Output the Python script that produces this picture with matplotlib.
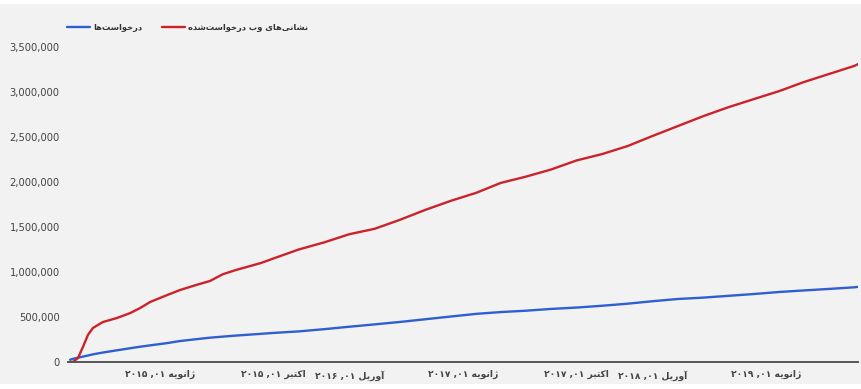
import matplotlib
matplotlib.use("Agg")
import matplotlib.pyplot as plt
from matplotlib.ticker import FuncFormatter, MultipleLocator
from matplotlib.patches import Rectangle
import numpy as np
import datetime as dt

# ---------------- data ----------------
dates = ["2014-05-29", "2014-06-05", "2014-06-17", "2014-06-29", "2014-07-11",
         "2014-07-23", "2014-08-16", "2014-09-19", "2014-10-21", "2014-11-14",
         "2014-12-08", "2015-01-18", "2015-02-18", "2015-04-01", "2015-05-01",
         "2015-06-01", "2015-07-01", "2015-08-01", "2015-09-01", "2015-10-01",
         "2015-12-01", "2016-02-01", "2016-04-01", "2016-06-01", "2016-08-01",
         "2016-10-01", "2016-12-01", "2017-02-01", "2017-04-01", "2017-06-01",
         "2017-08-01", "2017-10-01", "2017-12-01", "2018-02-01", "2018-04-01",
         "2018-06-01", "2018-08-01", "2018-10-01", "2018-12-01", "2019-02-01",
         "2019-04-01", "2019-06-01", "2019-08-01", "2019-08-10"]
urls_k = [0, 0, 44, 167, 300,
          378, 444, 489, 544, 600,
          667, 744, 800, 860, 900,
          975, 1020, 1060, 1100, 1150,
          1250, 1330, 1420, 1480, 1580,
          1690, 1790, 1880, 1990, 2060,
          2140, 2240, 2310, 2400, 2510,
          2620, 2730, 2830, 2920, 3010,
          3110, 3200, 3290, 3310]
requests_k = [25, 35, 48, 60, 72,
              85, 105, 130, 153, 170,
              185, 210, 233, 255, 270,
              282, 293, 303, 313, 323,
              340, 365, 392, 418, 445,
              475, 505, 535, 555, 570,
              590, 605, 625, 648, 675,
              700, 715, 735, 755, 778,
              795, 812, 830, 835]

tick_dates = ["2015-01-01", "2015-10-01", "2016-04-01", "2017-01-01",
              "2017-10-01", "2018-04-01", "2019-01-01"]
tick_months = ["ژانویه", "اکتبر", "آوریل", "ژانویه", "اکتبر", "آوریل", "ژانویه"]
tick_years = ["۲۰۱۵", "۲۰۱۵", "۲۰۱۶", "۲۰۱۷", "۲۰۱۷", "۲۰۱۸", "۲۰۱۹"]
tick_day = "۰۱"

label_requests = "درخواست‌ها"
label_urls = "نشانی‌های وب درخواست‌شده"

# ---------------- minimal Persian shaping ----------------
# letter: (isolated, final, initial, medial) ; None initial => does not join to next
FORMS = {
    "ا": ("\uFE8D", "\uFE8E", None, None),
    "آ": ("\uFE81", "\uFE82", None, None),
    "ب": ("\uFE8F", "\uFE90", "\uFE91", "\uFE92"),
    "ت": ("\uFE95", "\uFE96", "\uFE97", "\uFE98"),
    "خ": ("\uFEA5", "\uFEA6", "\uFEA7", "\uFEA8"),
    "د": ("\uFEA9", "\uFEAA", None, None),
    "ر": ("\uFEAD", "\uFEAE", None, None),
    "ژ": ("\uFB8A", "\uFB8B", None, None),
    "س": ("\uFEB1", "\uFEB2", "\uFEB3", "\uFEB4"),
    "ش": ("\uFEB5", "\uFEB6", "\uFEB7", "\uFEB8"),
    "ک": ("\uFB8E", "\uFB8F", "\uFB90", "\uFB91"),
    "ل": ("\uFEDD", "\uFEDE", "\uFEDF", "\uFEE0"),
    "ن": ("\uFEE5", "\uFEE6", "\uFEE7", "\uFEE8"),
    "ه": ("\uFEE9", "\uFEEA", "\uFEEB", "\uFEEC"),
    "و": ("\uFEED", "\uFEEE", None, None),
    "ی": ("\uFBFC", "\uFBFD", "\uFBFE", "\uFBFF"),
}


def shape_word(word):
    chars = list(word)
    out = []
    for i, ch in enumerate(chars):
        if ch not in FORMS:
            if ch != "\u200c":
                out.append(ch)
            continue
        prev = chars[i - 1] if i > 0 else None
        nxt = chars[i + 1] if i + 1 < len(chars) else None
        pj = prev in FORMS and FORMS[prev][2] is not None
        nj = nxt in FORMS and FORMS[ch][2] is not None
        iso, fin, ini, med = FORMS[ch]
        if pj and nj:
            out.append(med)
        elif pj:
            out.append(fin)
        elif nj:
            out.append(ini)
        else:
            out.append(iso)
    return "".join(reversed(out))


def shape_text(text):
    return " ".join(shape_word(w) for w in reversed(text.split(" ")))


# ---------------- figure ----------------
W, H = 862, 389
fig = plt.figure(figsize=(W / 100, H / 100), dpi=100)
fig.patch.set_facecolor("#f2f2f2")
fig.patches.append(Rectangle((0, 1 - 4 / H), 1, 4 / H, transform=fig.transFigure,
                             facecolor="white", edgecolor="none", zorder=0))
fig.patches.append(Rectangle((0, 0), 1, 5 / H, transform=fig.transFigure,
                             facecolor="white", edgecolor="none", zorder=0))

ax = fig.add_axes([68 / W, 1 - 362 / H, (858 - 68) / W, (362 - 40) / H])
ax.set_facecolor("#f2f2f2")

x = [dt.datetime.strptime(d, "%Y-%m-%d") for d in dates]
req = np.array(requests_k) * 1000
url = np.array(urls_k) * 1000

l_req, = ax.plot(x, req, color="#2e5fd2", lw=1.7, solid_capstyle="round",
                 solid_joinstyle="round")
l_url, = ax.plot(x, url, color="#cc2229", lw=1.7, solid_capstyle="round",
                 solid_joinstyle="round")

ax.set_xlim(x[0] - dt.timedelta(days=5), x[-1])
ax.set_ylim(0, 3_578_000)

for s in ["top", "right", "left"]:
    ax.spines[s].set_visible(False)
ax.spines["bottom"].set_color("#555555")
ax.spines["bottom"].set_linewidth(1.4)

ax.yaxis.set_major_locator(MultipleLocator(500_000))
ax.yaxis.set_major_formatter(FuncFormatter(lambda v, p: f"{v:,.0f}"))
ax.tick_params(axis="y", length=0, pad=6, labelsize=7.2, labelcolor="#444444")

tx = [dt.datetime.strptime(d, "%Y-%m-%d") for d in tick_dates]
tl = [f"{y} ,{tick_day} {shape_word(m)}" for m, y in zip(tick_months, tick_years)]
ax.set_xticks(tx)
ax.set_xticklabels(tl)
ax.tick_params(axis="x", length=0, pad=6, labelsize=6.6, labelcolor="#444444")
for t in ax.get_xticklabels():
    t.set_fontweight("bold")

leg = ax.legend([l_req, l_url], [shape_text(label_requests), shape_text(label_urls)],
                ncol=2, loc="lower left", bbox_to_anchor=(-0.001, 1.025),
                frameon=False, fontsize=6.0, handlelength=2.7, handletextpad=0.4,
                columnspacing=2.4, borderaxespad=0, borderpad=0)
for t in leg.get_texts():
    t.set_color("#333333")
    t.set_fontweight("bold")

fig.savefig("out.png", dpi=100, facecolor=fig.get_facecolor())
